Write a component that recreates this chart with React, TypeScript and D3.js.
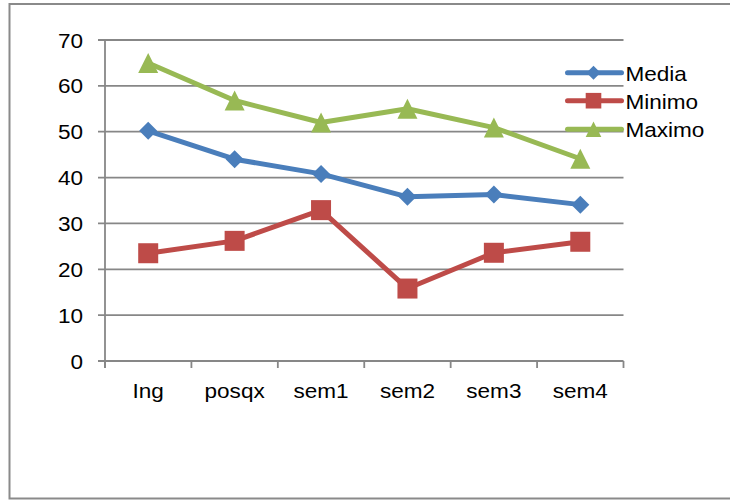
import React from "react";
import * as d3 from "d3";

const categories = ["Ing", "posqx", "sem1", "sem2", "sem3", "sem4"];
const media = [50.2, 44.0, 40.8, 35.8, 36.3, 34.1];
const minimo = [23.5, 26.2, 32.9, 15.8, 23.6, 26.0];
const maximo = [65.0, 56.8, 52.0, 55.0, 50.9, 44.1];
const yTicks = [0, 10, 20, 30, 40, 50, 60, 70];

const seriesNames = ["Media", "Minimo", "Maximo"];
const seriesColors = ["#4a7ebb", "#be4b48", "#98b954"];

const W = 730;
const H = 500;
const FONT = "'Liberation Sans', Arial, sans-serif";
const GRID = "#878787";

type Shape = "diamond" | "square" | "triangle";
const shapes: Shape[] = ["diamond", "square", "triangle"];

function Marker({ shape, x, y, color, scale = 1 }: { shape: Shape; x: number; y: number; color: string; scale?: number }) {
  if (shape === "diamond") {
    const r = 9 * scale;
    return <path d={`M${x},${y - r}L${x + r},${y}L${x},${y + r}L${x - r},${y}Z`} fill={color} />;
  }
  if (shape === "square") {
    const s = 20 * scale;
    return <rect x={x - s / 2} y={y - s / 2} width={s} height={s} fill={color} />;
  }
  const w = 20 * scale;
  const h = 20 * scale;
  return <path d={`M${x},${y - h / 2}L${x + w / 2},${y + h / 2}L${x - w / 2},${y + h / 2}Z`} fill={color} />;
}

function Label({ x, y, anchor, children }: { x: number; y: number; anchor: "start" | "middle" | "end"; children: React.ReactNode }) {
  return (
    <text
      transform={`translate(${x},${y}) scale(1.1,1)`}
      textAnchor={anchor}
      fontFamily={FONT}
      fontSize={20.5}
      fill="#000"
    >
      {children}
    </text>
  );
}

export default function App() {
  const x = d3.scaleBand<string>().domain(categories).range([105, 623.5]);
  const y = d3.scaleLinear().domain([0, 70]).range([361, 40]);
  const cx = (c: string) => (x(c) as number) + x.bandwidth() / 2;

  const line = d3
    .line<number>()
    .x((_, i) => cx(categories[i]))
    .y((v) => y(v));

  const allSeries = [media, minimo, maximo];
  const boundaries = categories.map((c) => x(c) as number).concat([623.5]);

  const legendY = [72.7, 100.7, 129.3];

  return (
    <svg
      width={W}
      height={H}
      style={{ position: "absolute", left: 0, top: 0, background: "#fff" }}
    >
      <rect x={0} y={0} width={W} height={H} fill="#fff" />
      {/* outer chart border */}
      <path d={`M${W},4H9.5V498.5H${W}`} fill="none" stroke="#8a8a8a" strokeWidth={2} />

      {/* horizontal gridlines with ticks */}
      {yTicks.map((t) => (
        <line key={t} x1={98} x2={623.5} y1={y(t)} y2={y(t)} stroke={GRID} strokeWidth={1.8} />
      ))}
      {/* value axis */}
      <line x1={105} x2={105} y1={40} y2={368} stroke={GRID} strokeWidth={1.8} />
      {/* category ticks */}
      {boundaries.map((b, i) => (
        <line key={i} x1={b} x2={b} y1={361} y2={368} stroke={GRID} strokeWidth={1.8} />
      ))}

      {yTicks.map((t) => (
        <Label key={t} x={83} y={y(t) + 7.5} anchor="end">
          {t}
        </Label>
      ))}
      {categories.map((c) => (
        <Label key={c} x={cx(c)} y={398} anchor="middle">
          {c}
        </Label>
      ))}

      {/* series */}
      {allSeries.map((s, si) => (
        <g key={si}>
          <path
            d={line(s) as string}
            fill="none"
            stroke={seriesColors[si]}
            strokeWidth={5}
            strokeLinejoin="round"
            strokeLinecap="round"
          />
          {s.map((v, i) => (
            <Marker key={i} shape={shapes[si]} x={cx(categories[i])} y={y(v)} color={seriesColors[si]} />
          ))}
        </g>
      ))}

      {/* legend */}
      {seriesNames.map((n, i) => (
        <g key={n}>
          <line
            x1={567.5}
            x2={621.5}
            y1={legendY[i]}
            y2={legendY[i]}
            stroke={seriesColors[i]}
            strokeWidth={5}
            strokeLinecap="round"
          />
          <Marker shape={shapes[i]} x={593.5} y={legendY[i]} color={seriesColors[i]} scale={0.78} />
          <Label x={625.5} y={legendY[i] + 7.8} anchor="start">
            {n}
          </Label>
        </g>
      ))}
    </svg>
  );
}
